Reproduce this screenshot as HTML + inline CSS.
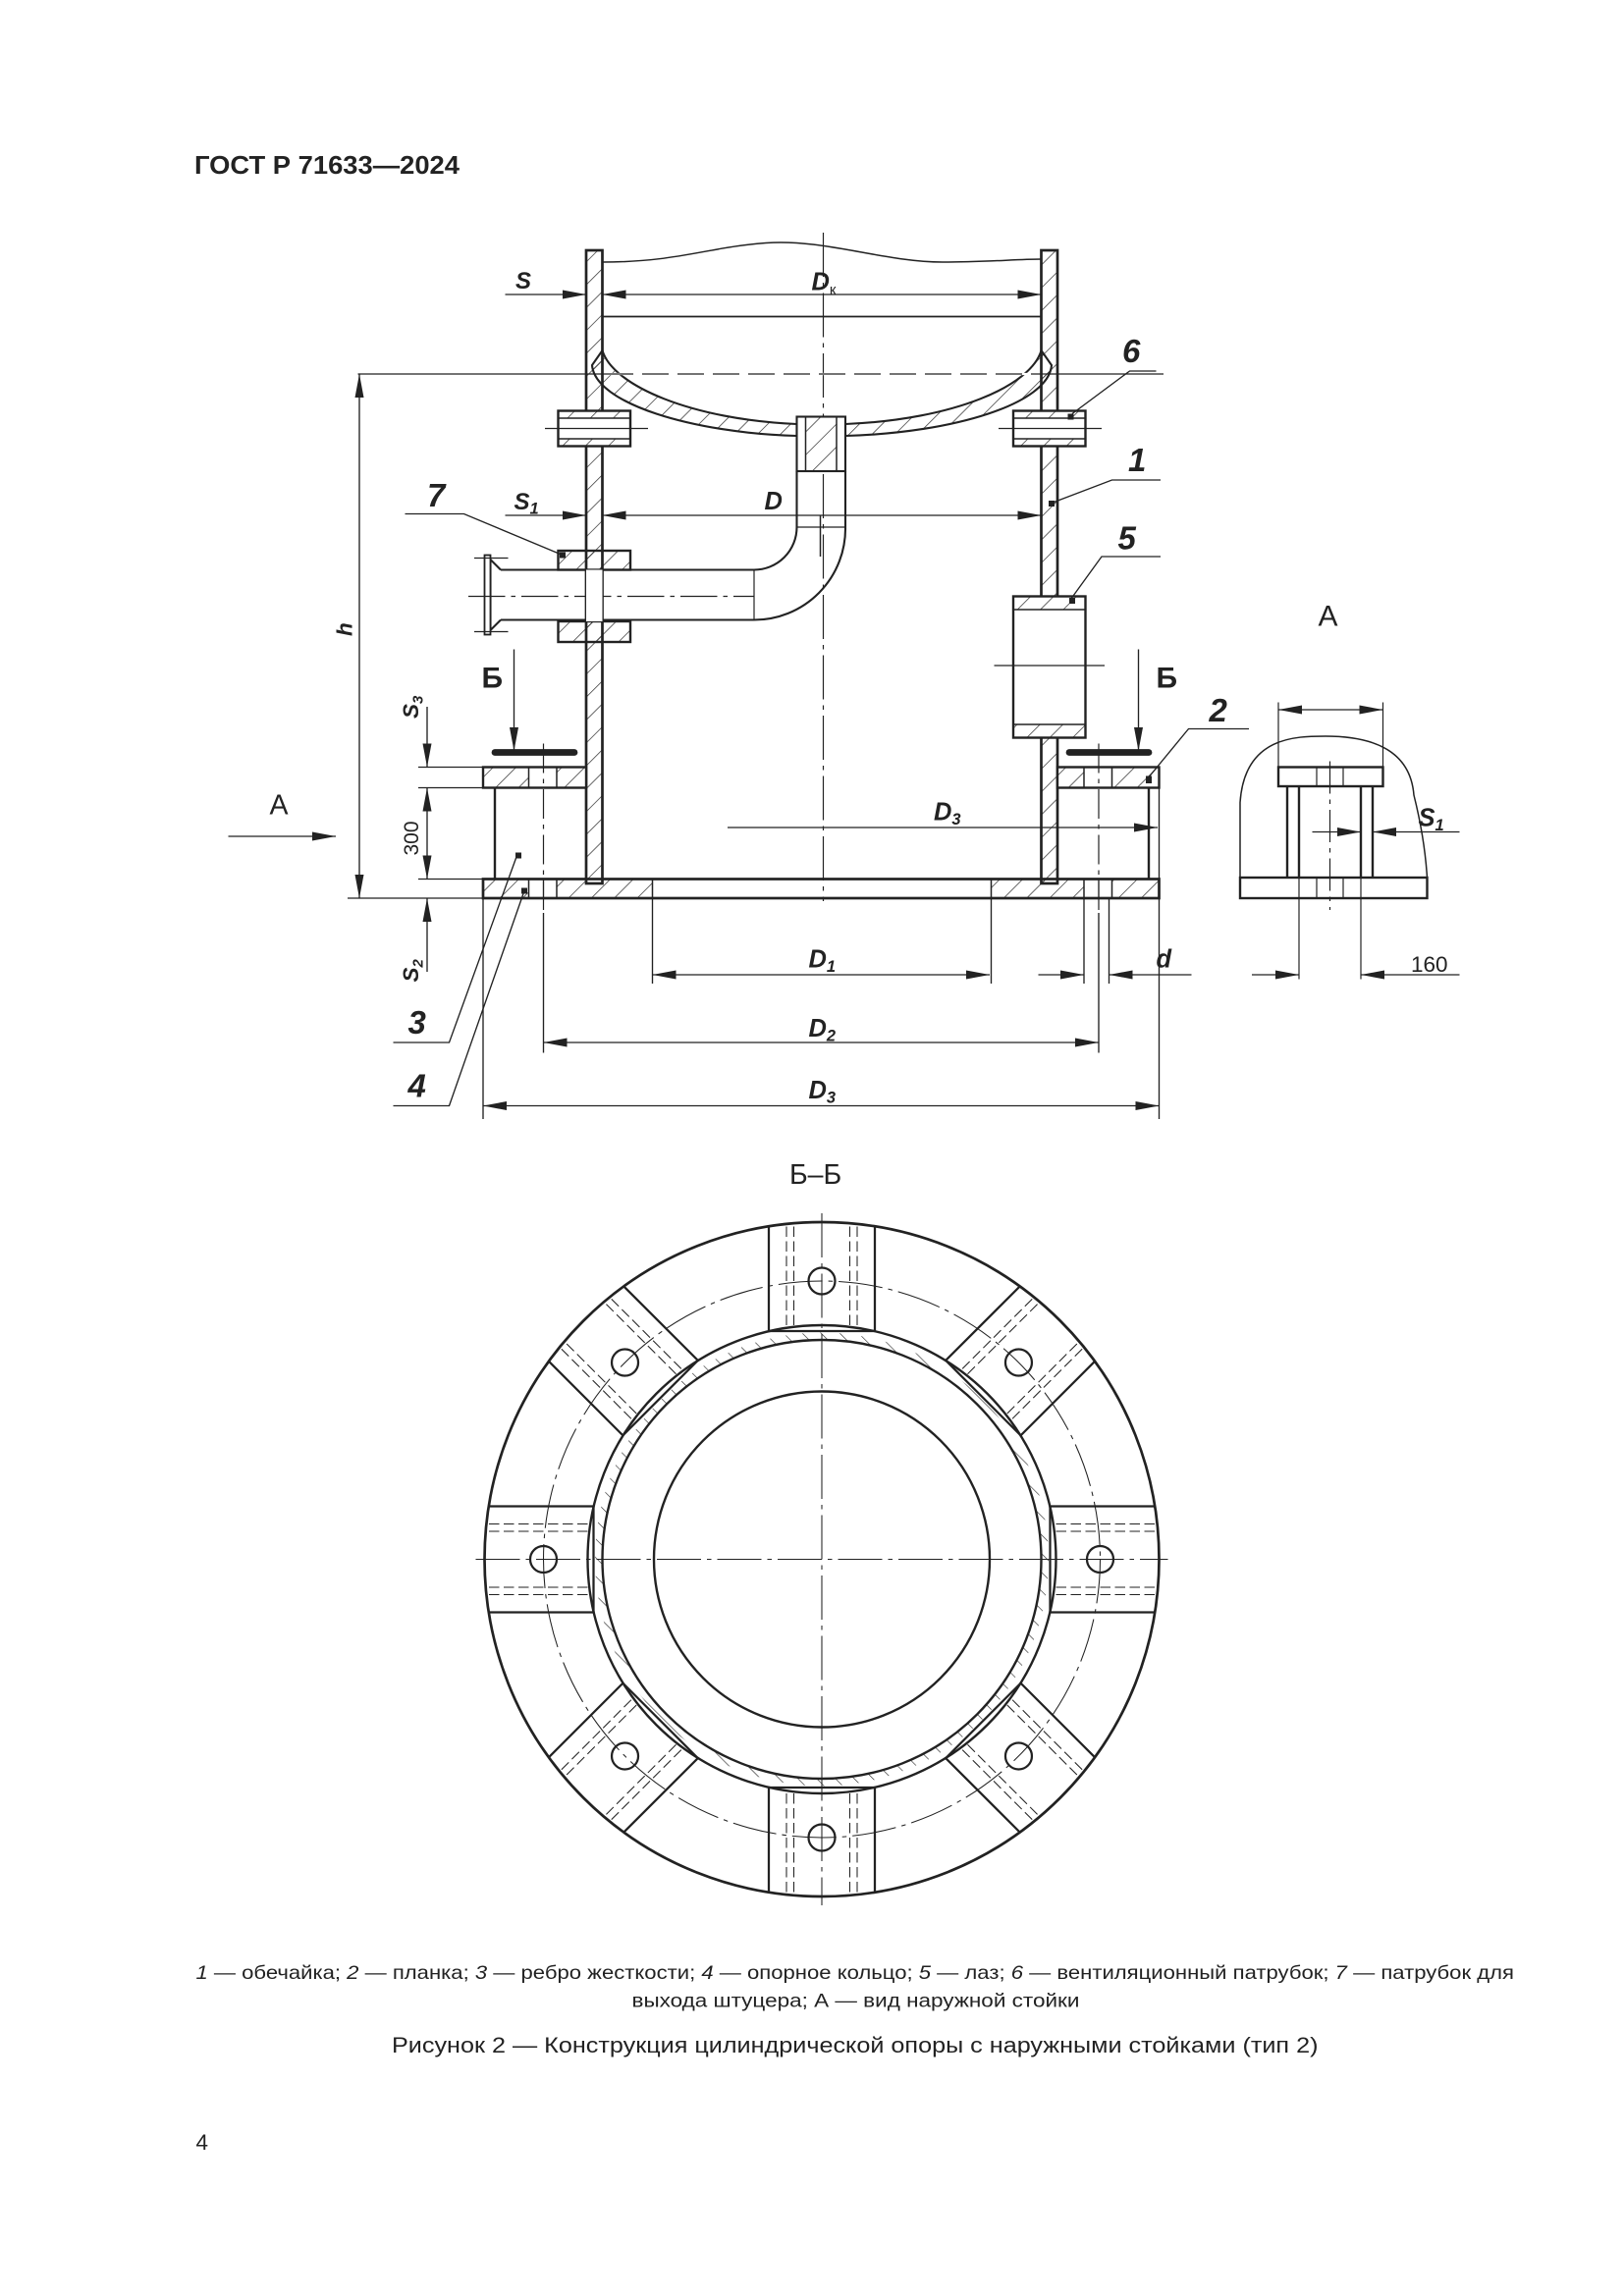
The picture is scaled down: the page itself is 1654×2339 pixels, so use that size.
<!DOCTYPE html>
<html><head><meta charset="utf-8"><style>
html,body{margin:0;padding:0;background:#fff}
svg{display:block}
text{font-family:"Liberation Sans",sans-serif;fill:#222}
.it{font-style:italic}
</style></head><body>
<svg width="1654" height="2339" viewBox="0 0 1102.67 1559.33" xmlns="http://www.w3.org/2000/svg">
<defs>
<pattern id="h" width="11" height="11" patternUnits="userSpaceOnUse" patternTransform="rotate(45)"><line x1="0" y1="0" x2="0" y2="11" stroke="#222" stroke-width="0.9"/></pattern>
<pattern id="h2" width="9" height="9" patternUnits="userSpaceOnUse" patternTransform="rotate(-45)"><line x1="0" y1="0" x2="0" y2="9" stroke="#222" stroke-width="0.8"/></pattern>
<marker id="a" viewBox="0 0 16 6" refX="16" refY="3" markerWidth="16" markerHeight="6" markerUnits="userSpaceOnUse" orient="auto-start-reverse"><path d="M0,0 L16,3 L0,6 Z" fill="#222"/></marker>
<clipPath id="oc"><circle cx="558" cy="1059" r="229"/></clipPath>
</defs>

<text x="132" y="118" font-size="17" font-weight="bold" textLength="180" lengthAdjust="spacingAndGlyphs">ГОСТ Р 71633—2024</text>

<g stroke="#222" fill="none" stroke-width="1.8">
<line x1="559" y1="158" x2="559" y2="612" stroke-width="0.8" stroke-dasharray="30,4,3,4"/>
<path d="M409,178 C460,178 480,168 520,165 C560,162 600,178 640,178 C670,178 690,176 707,176" stroke-width="1"/>
<rect x="398" y="170" width="11" height="430" fill="url(#h)"/>
<rect x="707" y="170" width="11" height="430" fill="url(#h)"/>
<line x1="409" y1="215" x2="707" y2="215" stroke-width="1.2"/>
<path d="M409,238 C416,262 470,285 541,288 L541,296 C470,294 404,274 402,248 Z" fill="url(#h)" stroke-width="1.4"/>
<path d="M707,238 C700,262 648,285 574,288 L574,296 C648,294 712,274 714,248 Z" fill="url(#h)" stroke-width="1.4"/>
<line x1="243" y1="254" x2="790" y2="254" stroke-width="0.8"/>
<line x1="412" y1="254" x2="705" y2="254" stroke="#fff" stroke-width="1.5"/>
<line x1="412" y1="254" x2="705" y2="254" stroke-width="0.9" stroke-dasharray="18,6"/>
<rect x="541" y="283" width="33" height="37" fill="#fff" stroke-width="1.4"/>
<rect x="547" y="283" width="21" height="37" fill="url(#h)" stroke-width="1"/>
<path d="M541,320 L541,358 A29,29 0 0 1 512,387 L340,387" fill="none" stroke-width="1.4"/>
<path d="M574,320 L574,358 A62,62 0 0 1 512,421 L340,421" fill="none" stroke-width="1.4"/>
<line x1="541" y1="358" x2="574" y2="358" stroke-width="0.8"/>
<line x1="512" y1="387" x2="512" y2="421" stroke-width="0.8"/>
<line x1="557" y1="350" x2="557" y2="378" stroke-width="1"/>
<path d="M340,387 L333,380 L333,428 L340,421" stroke-width="1.4"/>
<rect x="329" y="377" width="4" height="54" stroke-width="1.2" fill="#fff"/>
<line x1="322" y1="379" x2="345" y2="379" stroke-width="0.8"/>
<line x1="322" y1="429" x2="345" y2="429" stroke-width="0.8"/>
<line x1="318" y1="405" x2="512" y2="405" stroke-width="0.8" stroke-dasharray="25,4,3,4"/>
<rect x="379" y="374" width="49" height="13" fill="url(#h)" stroke-width="1.6"/>
<rect x="379" y="422" width="49" height="14" fill="url(#h)" stroke-width="1.6"/>
<rect x="398" y="387" width="11" height="35" fill="#fff" stroke="none"/>
<rect x="379" y="279" width="49" height="24" fill="#fff" stroke-width="1.6"/>
<rect x="379" y="279" width="49" height="5" fill="url(#h)" stroke-width="1"/>
<rect x="379" y="298" width="49" height="5" fill="url(#h)" stroke-width="1"/>
<line x1="370" y1="291" x2="440" y2="291" stroke-width="0.8"/>
<rect x="688" y="279" width="49" height="24" fill="#fff" stroke-width="1.6"/>
<rect x="688" y="279" width="49" height="5" fill="url(#h)" stroke-width="1"/>
<rect x="688" y="298" width="49" height="5" fill="url(#h)" stroke-width="1"/>
<line x1="678" y1="291" x2="748" y2="291" stroke-width="0.8"/>
<rect x="688" y="405" width="49" height="96" fill="#fff" stroke-width="1.6"/>
<rect x="688" y="405" width="49" height="9" fill="url(#h)" stroke-width="1"/>
<rect x="688" y="492" width="49" height="9" fill="url(#h)" stroke-width="1"/>
<line x1="675" y1="452" x2="750" y2="452" stroke-width="0.8"/>
<rect x="328" y="597" width="459" height="13" stroke-width="1.8"/>
<rect x="328" y="597" width="31" height="13" fill="url(#h)" stroke-width="1"/>
<rect x="378" y="597" width="65" height="13" fill="url(#h)" stroke-width="1"/>
<rect x="673" y="597" width="63" height="13" fill="url(#h)" stroke-width="1"/>
<rect x="755" y="597" width="32" height="13" fill="url(#h)" stroke-width="1"/>
<line x1="369" y1="597" x2="369" y2="610" stroke-width="0.8"/>
<line x1="746" y1="597" x2="746" y2="610" stroke-width="0.8"/>
<rect x="328" y="521" width="70" height="14" fill="#fff" stroke-width="1.6"/>
<rect x="328" y="521" width="31" height="14" fill="url(#h)" stroke-width="1"/>
<rect x="378" y="521" width="20" height="14" fill="url(#h)" stroke-width="1"/>
<line x1="336" y1="535" x2="336" y2="597" stroke-width="1.6"/>
<line x1="369" y1="505" x2="369" y2="620" stroke-width="0.8" stroke-dasharray="20,4,3,4"/>
<rect x="718" y="521" width="69" height="14" fill="#fff" stroke-width="1.6"/>
<rect x="718" y="521" width="18" height="14" fill="url(#h)" stroke-width="1"/>
<rect x="755" y="521" width="32" height="14" fill="url(#h)" stroke-width="1"/>
<line x1="780" y1="535" x2="780" y2="597" stroke-width="1.6"/>
<line x1="746" y1="505" x2="746" y2="620" stroke-width="0.8" stroke-dasharray="20,4,3,4"/>
<line x1="336" y1="511" x2="390" y2="511" stroke-width="4.5" stroke-linecap="round"/>
<line x1="726" y1="511" x2="780" y2="511" stroke-width="4.5" stroke-linecap="round"/>
</g>

<g stroke="#222" fill="none" stroke-width="0.9">
<line x1="343" y1="200" x2="398" y2="200" marker-end="url(#a)"/>
<line x1="409" y1="200" x2="707" y2="200" marker-start="url(#a)" marker-end="url(#a)"/>
<line x1="343" y1="350" x2="398" y2="350" marker-end="url(#a)"/>
<line x1="409" y1="350" x2="707" y2="350" marker-start="url(#a)" marker-end="url(#a)"/>
<line x1="244" y1="254" x2="244" y2="610" marker-start="url(#a)" marker-end="url(#a)"/>
<line x1="236" y1="610" x2="336" y2="610"/>
<line x1="284" y1="521" x2="328" y2="521"/>
<line x1="284" y1="535" x2="328" y2="535"/>
<line x1="284" y1="597" x2="328" y2="597"/>
<line x1="290" y1="480" x2="290" y2="521" marker-end="url(#a)"/>
<line x1="290" y1="535" x2="290" y2="597" marker-start="url(#a)" marker-end="url(#a)"/>
<line x1="290" y1="660" x2="290" y2="610" marker-end="url(#a)"/>
<line x1="349" y1="441" x2="349" y2="510" marker-end="url(#a)"/>
<line x1="773" y1="441" x2="773" y2="510" marker-end="url(#a)"/>
<line x1="155" y1="568" x2="228" y2="568" marker-end="url(#a)"/>
<line x1="494" y1="562" x2="786" y2="562" marker-end="url(#a)"/>
<line x1="787" y1="535" x2="787" y2="760"/>
<line x1="328" y1="610" x2="328" y2="760"/>
<line x1="369" y1="620" x2="369" y2="715"/>
<line x1="746" y1="620" x2="746" y2="715"/>
<line x1="443" y1="610" x2="443" y2="668"/>
<line x1="673" y1="610" x2="673" y2="668"/>
<line x1="736" y1="610" x2="736" y2="668"/>
<line x1="753" y1="610" x2="753" y2="668"/>
<line x1="443" y1="662" x2="672" y2="662" marker-start="url(#a)" marker-end="url(#a)"/>
<line x1="705" y1="662" x2="736" y2="662" marker-end="url(#a)"/>
<line x1="809" y1="662" x2="753" y2="662" marker-end="url(#a)"/>
<line x1="369" y1="708" x2="746" y2="708" marker-start="url(#a)" marker-end="url(#a)"/>
<line x1="328" y1="751" x2="787" y2="751" marker-start="url(#a)" marker-end="url(#a)"/>
<polyline points="785,252 767,252 728,281"/>
<polyline points="788,326 755,326 713,342"/>
<polyline points="788,378 748,378 727,407"/>
<polyline points="275,349 315,349 382,377"/>
<polyline points="848,495 807,495 779,529"/>
<polyline points="267,708 305,708 351,581"/>
<polyline points="267,751 305,751 356,605"/>
</g>
<g fill="#222">
<rect x="380" y="375" width="4" height="4"/><rect x="725" y="281" width="4" height="4"/><rect x="712" y="340" width="4" height="4"/><rect x="726" y="406" width="4" height="4"/><rect x="778" y="527" width="4" height="5"/><rect x="350" y="579" width="4" height="4"/><rect x="354" y="603" width="4" height="4"/>
</g>

<g font-size="17" font-weight="bold">
<text x="350" y="196" class="it" font-size="16">S</text>
<text x="551" y="197" class="it">D<tspan font-size="10" font-style="normal" font-weight="normal" dy="3">к</tspan></text>
<text x="349" y="346" class="it" font-size="16">S<tspan font-size="11" dy="3">1</tspan></text>
<text x="519" y="346" class="it">D</text>
<text x="634" y="557" class="it">D<tspan font-size="11" dy="3">3</tspan></text>
<text x="549" y="657" class="it">D<tspan font-size="11" dy="3">1</tspan></text>
<text x="549" y="704" class="it">D<tspan font-size="11" dy="3">2</tspan></text>
<text x="549" y="746" class="it">D<tspan font-size="11" dy="3">3</tspan></text>
<text x="785" y="657" class="it">d</text>
<text transform="translate(239,432) rotate(-90)" class="it" font-size="15">h</text>
<text transform="translate(284,488) rotate(-90)" class="it" font-size="15">S<tspan font-size="10" dy="3">3</tspan></text>
<text transform="translate(284,581) rotate(-90)" font-size="14" font-weight="normal">300</text>
<text transform="translate(284,667) rotate(-90)" class="it" font-size="15">S<tspan font-size="10" dy="3">2</tspan></text>
<text x="327" y="467" font-size="20">Б</text>
<text x="785" y="467" font-size="20">Б</text>
<text x="183" y="553" font-size="19" font-weight="normal">А</text>
<text x="895" y="425" font-size="20" font-weight="normal">А</text>
<g font-size="22" class="it"><text x="762" y="246">6</text><text x="766" y="320">1</text><text x="759" y="373">5</text><text x="290" y="344">7</text><text x="821" y="490">2</text><text x="277" y="702">3</text><text x="277" y="745">4</text></g>
</g>

<g stroke="#222" fill="none" stroke-width="1.6">
<path d="M842,596 L842,545 C845,500 880,500 900,500 C940,500 958,515 960,540 C965,560 968,580 969,596" stroke-width="1"/>
<rect x="842" y="596" width="127" height="14" fill="#fff"/>
<rect x="868" y="521" width="71" height="13" fill="#fff"/>
<line x1="874" y1="534" x2="874" y2="596"/><line x1="882" y1="534" x2="882" y2="596"/>
<line x1="924" y1="534" x2="924" y2="596"/><line x1="932" y1="534" x2="932" y2="596"/>
<g stroke-width="0.8"><line x1="894" y1="521" x2="894" y2="534"/><line x1="912" y1="521" x2="912" y2="534"/>
<line x1="894" y1="596" x2="894" y2="610"/><line x1="912" y1="596" x2="912" y2="610"/>
<line x1="882" y1="596" x2="882" y2="665"/><line x1="924" y1="596" x2="924" y2="665"/>
<line x1="903" y1="517" x2="903" y2="618" stroke-dasharray="22,4,3,4"/>
<line x1="868" y1="477" x2="868" y2="521"/><line x1="939" y1="477" x2="939" y2="521"/>
<line x1="868" y1="482" x2="939" y2="482" marker-start="url(#a)" marker-end="url(#a)"/>
<line x1="891" y1="565" x2="924" y2="565" marker-end="url(#a)"/>
<line x1="991" y1="565" x2="932" y2="565" marker-end="url(#a)"/>
<line x1="850" y1="662" x2="882" y2="662" marker-end="url(#a)"/>
<line x1="991" y1="662" x2="924" y2="662" marker-end="url(#a)"/>
</g></g>
<text x="963" y="561" font-size="17" class="it" font-weight="bold">S<tspan font-size="11" dy="3">1</tspan></text>
<text x="958" y="660" font-size="15">160</text>

<text x="536" y="804" font-size="19">Б–Б</text>
<g stroke="#222" fill="none" stroke-width="1.5" clip-path="url(#oc)">
<g transform="translate(558,1059)">
<g><rect x="155" y="-36" width="80" height="72" fill="#fff"/><g stroke-width="0.7" stroke-dasharray="7,3"><line x1="159" y1="-24" x2="235" y2="-24"/><line x1="159" y1="-19" x2="235" y2="-19"/><line x1="159" y1="24" x2="235" y2="24"/><line x1="159" y1="19" x2="235" y2="19"/></g><circle cx="189" cy="0" r="9" fill="#fff"/></g>
<g transform="rotate(45)"><rect x="155" y="-36" width="80" height="72" fill="#fff"/><g stroke-width="0.7" stroke-dasharray="7,3"><line x1="159" y1="-24" x2="235" y2="-24"/><line x1="159" y1="-19" x2="235" y2="-19"/><line x1="159" y1="24" x2="235" y2="24"/><line x1="159" y1="19" x2="235" y2="19"/></g><circle cx="189" cy="0" r="9" fill="#fff"/></g>
<g transform="rotate(90)"><rect x="155" y="-36" width="80" height="72" fill="#fff"/><g stroke-width="0.7" stroke-dasharray="7,3"><line x1="159" y1="-24" x2="235" y2="-24"/><line x1="159" y1="-19" x2="235" y2="-19"/><line x1="159" y1="24" x2="235" y2="24"/><line x1="159" y1="19" x2="235" y2="19"/></g><circle cx="189" cy="0" r="9" fill="#fff"/></g>
<g transform="rotate(135)"><rect x="155" y="-36" width="80" height="72" fill="#fff"/><g stroke-width="0.7" stroke-dasharray="7,3"><line x1="159" y1="-24" x2="235" y2="-24"/><line x1="159" y1="-19" x2="235" y2="-19"/><line x1="159" y1="24" x2="235" y2="24"/><line x1="159" y1="19" x2="235" y2="19"/></g><circle cx="189" cy="0" r="9" fill="#fff"/></g>
<g transform="rotate(180)"><rect x="155" y="-36" width="80" height="72" fill="#fff"/><g stroke-width="0.7" stroke-dasharray="7,3"><line x1="159" y1="-24" x2="235" y2="-24"/><line x1="159" y1="-19" x2="235" y2="-19"/><line x1="159" y1="24" x2="235" y2="24"/><line x1="159" y1="19" x2="235" y2="19"/></g><circle cx="189" cy="0" r="9" fill="#fff"/></g>
<g transform="rotate(225)"><rect x="155" y="-36" width="80" height="72" fill="#fff"/><g stroke-width="0.7" stroke-dasharray="7,3"><line x1="159" y1="-24" x2="235" y2="-24"/><line x1="159" y1="-19" x2="235" y2="-19"/><line x1="159" y1="24" x2="235" y2="24"/><line x1="159" y1="19" x2="235" y2="19"/></g><circle cx="189" cy="0" r="9" fill="#fff"/></g>
<g transform="rotate(270)"><rect x="155" y="-36" width="80" height="72" fill="#fff"/><g stroke-width="0.7" stroke-dasharray="7,3"><line x1="159" y1="-24" x2="235" y2="-24"/><line x1="159" y1="-19" x2="235" y2="-19"/><line x1="159" y1="24" x2="235" y2="24"/><line x1="159" y1="19" x2="235" y2="19"/></g><circle cx="189" cy="0" r="9" fill="#fff"/></g>
<g transform="rotate(315)"><rect x="155" y="-36" width="80" height="72" fill="#fff"/><g stroke-width="0.7" stroke-dasharray="7,3"><line x1="159" y1="-24" x2="235" y2="-24"/><line x1="159" y1="-19" x2="235" y2="-19"/><line x1="159" y1="24" x2="235" y2="24"/><line x1="159" y1="19" x2="235" y2="19"/></g><circle cx="189" cy="0" r="9" fill="#fff"/></g>
</g>
</g>
<g stroke="#222" fill="none" transform="translate(558,1059)">
<circle r="229" stroke-width="1.8"/>
<circle r="189" stroke-width="0.7" stroke-dasharray="30,4,3,4"/>
<circle r="154" fill="url(#h2)" stroke="none"/>
<circle r="159" stroke-width="1.6"/>
<circle r="149" fill="#fff" stroke-width="1.6"/>
<circle r="114" stroke-width="1.6"/>
<line x1="-235" y1="0" x2="235" y2="0" stroke-width="0.7" stroke-dasharray="30,4,3,4"/>
<line x1="0" y1="-235" x2="0" y2="235" stroke-width="0.7" stroke-dasharray="30,4,3,4"/>
</g>

<text x="133" y="1344" font-size="13" textLength="895" lengthAdjust="spacingAndGlyphs"><tspan font-style="italic">1</tspan> — обечайка; <tspan font-style="italic">2</tspan> — планка; <tspan font-style="italic">3</tspan> — ребро жесткости; <tspan font-style="italic">4</tspan> — опорное кольцо; <tspan font-style="italic">5</tspan> — лаз; <tspan font-style="italic">6</tspan> — вентиляционный патрубок; <tspan font-style="italic">7</tspan> — патрубок для</text>
<text x="429" y="1363" font-size="13" textLength="304" lengthAdjust="spacingAndGlyphs">выхода штуцера; А — вид наружной стойки</text>
<text x="266" y="1394" font-size="15" textLength="629" lengthAdjust="spacingAndGlyphs">Рисунок 2 — Конструкция цилиндрической опоры с наружными стойками (тип 2)</text>
<text x="133" y="1460" font-size="15">4</text>
</svg>
</body></html>
